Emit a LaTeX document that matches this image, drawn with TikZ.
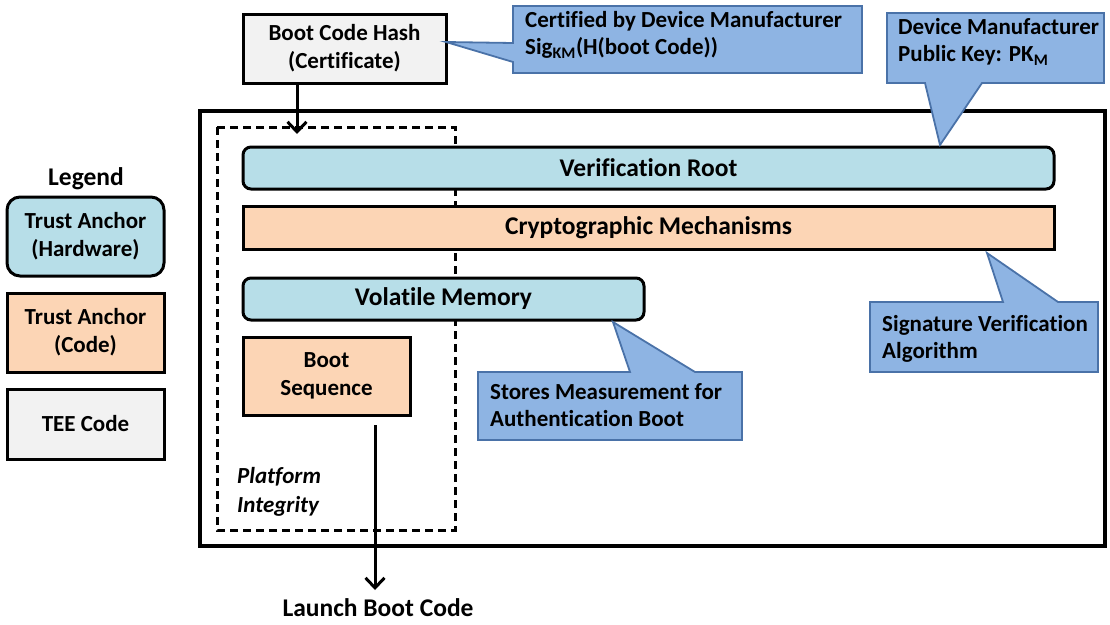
\documentclass[tikz,border=0pt]{standalone}
\usepackage{fontspec}
\setmainfont{Carlito}[Ligatures=NoCommon]
\usetikzlibrary{arrows.meta}
\definecolor{hwblue}{HTML}{B7DEE8}
\definecolor{codepeach}{HTML}{FCD5B5}
\definecolor{teegray}{HTML}{F2F2F2}
\definecolor{notefill}{HTML}{8EB4E3}
\definecolor{noteedge}{HTML}{4A72A8}
\tikzset{
  bigtxt/.style={font=\fontsize{25.5}{29}\selectfont\bfseries},
  txt/.style={font=\fontsize{23}{28}\selectfont\bfseries},
  hwbox/.style={draw=black, line width=3pt, fill=hwblue, rounded corners=8pt},
  codebox/.style={draw=black, line width=3pt, fill=codepeach},
  teebox/.style={draw=black, line width=3pt, fill=teegray},
  note/.style={draw=noteedge, line width=1.8pt, fill=notefill, line join=miter},
  notetext/.style={font=\fontsize{23}{27}\selectfont\bfseries, anchor=north west, align=left, inner sep=0pt},
  flow/.style={line width=3pt, -{Straight Barb[length=10pt,width=19pt,line width=3pt]}}
}
\begin{document}
\begin{tikzpicture}[x=1pt,y=-1pt]
\useasboundingbox (0,0) rectangle (1110,624);

% outer platform frame and dashed integrity region
\draw[line width=3.5pt] (200,111) rectangle (1105,546);
\draw[line width=3pt, dash pattern=on 8pt off 5pt] (217,127) rectangle (455,530);

% certificate
\node[teebox, txt, align=center, minimum width=203pt, minimum height=69pt] (hash) at (344.5,48.5)
  {Boot Code Hash\\(Certificate)};

% components
\node[hwbox, bigtxt, minimum width=811pt, minimum height=42pt] (vroot) at (648.5,168) {Verification Root};
\node[codebox, bigtxt, minimum width=811pt, minimum height=43pt] (crypto) at (648.5,227.5) {Cryptographic Mechanisms};
\node[hwbox, bigtxt, minimum width=401pt, minimum height=42pt] (vmem) at (443.5,299) {Volatile Memory};
\node[codebox, txt, align=center, minimum width=167pt, minimum height=78pt] (bseq) at (326.5,376)
  {Boot\\Sequence};

\node[font=\fontsize{23}{29}\selectfont\bfseries\itshape, align=left, anchor=north west, inner sep=0pt] (plat) at (237,467)
  {Platform\\Integrity};

% flow arrows
\coordinate (hashin) at (297,134);
\draw[flow] (hash.south -| hashin) -- (hashin);
\coordinate (launchstart) at (375,425);
\coordinate (launchtip) at (375,590);
\draw[flow] (launchstart) -- (launchtip);
\node[bigtxt, anchor=north, inner sep=0pt] (launch) at (378,598) {Launch Boot Code};

% callouts
\draw[note] (513,6) -- (862,6) -- (862,73) -- (513,73) -- (513,62) -- (446,42) -- (513,43) -- cycle;
\node[notetext] (cert) at (525,11) {Certified by Device Manufacturer\\Sig\textsubscript{KM}(H(boot Code))};

\draw[note] (887,13) -- (1104,13) -- (1104,83) -- (982,83) -- (940,145) -- (925,83) -- (887,83) -- cycle;
\node[notetext] (pk) at (898,18) {Device Manufacturer\\Public Key: PK\textsubscript{M}};

\draw[note] (478,372) -- (630,372) -- (613,322) -- (695,372) -- (742,372) -- (742,440) -- (478,440) -- cycle;
\node[notetext] (store) at (490,383) {Stores Measurement for\\Authentication Boot};

\draw[note] (870,302) -- (1003,302) -- (987,253) -- (1058,302) -- (1098,302) -- (1098,372) -- (870,372) -- cycle;
\node[notetext] (sig) at (882,315) {Signature Verification\\Algorithm};

% legend
\node[bigtxt, anchor=base] (legend) at (86,185) {Legend};
\node[hwbox, txt, align=center, minimum width=157pt, minimum height=79pt, rounded corners=13pt] (lhw) at (85.5,236.5)
  {Trust Anchor\\(Hardware)};
\node[codebox, txt, align=center, minimum width=157pt, minimum height=79pt] (lcode) at (85.5,332.5)
  {Trust Anchor\\(Code)};
\node[teebox, txt, minimum width=157pt, minimum height=70pt] (ltee) at (85.5,424) {TEE Code};
\end{tikzpicture}
\end{document}
